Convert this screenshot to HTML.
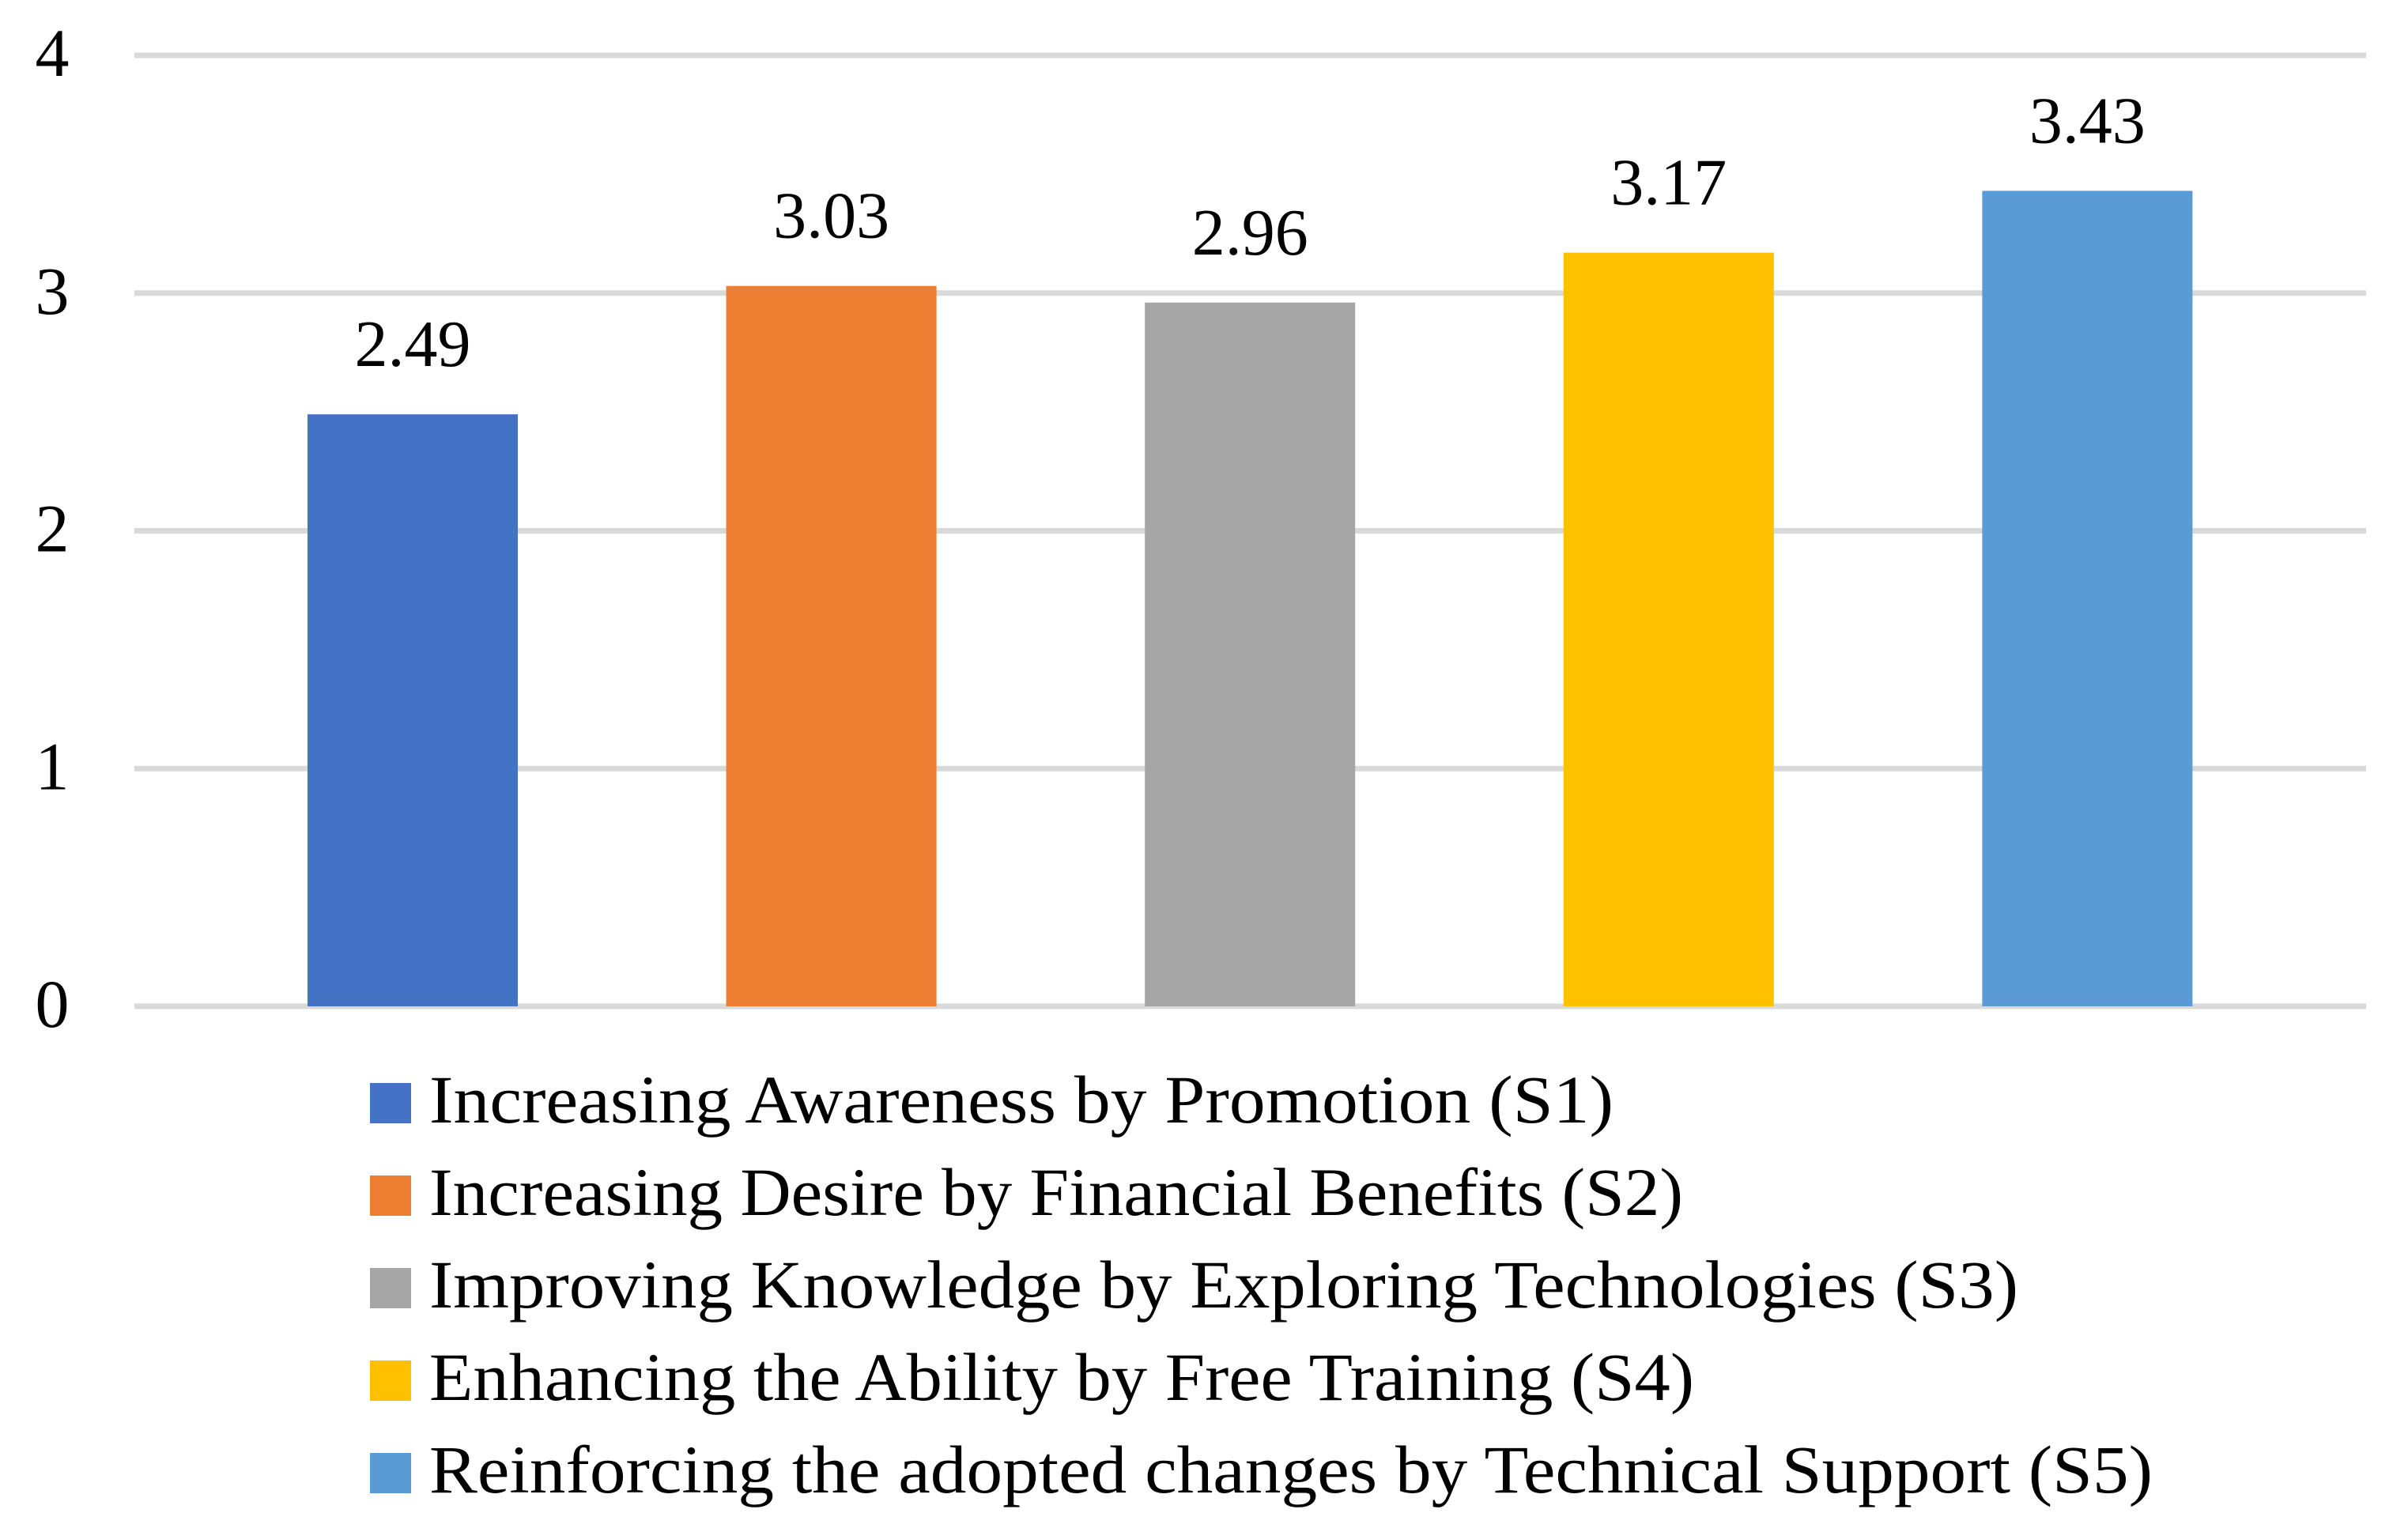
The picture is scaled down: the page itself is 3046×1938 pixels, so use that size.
<!DOCTYPE html>
<html><head><meta charset="utf-8"><style>
html,body{margin:0;padding:0;background:#fff;}
svg{display:block;font-family:"Liberation Serif",serif;}
</style></head><body>
<svg id="chart" width="3046" height="1938" viewBox="0 0 3046 1938" xmlns="http://www.w3.org/2000/svg">
<rect width="3046" height="1938" fill="#fff"/>
<g id="grid"></g><g id="bars"></g><g id="labels"></g><g id="legend"></g>
</svg>
<script>
const categories = ["Increasing Awareness by Promotion (S1)","Increasing Desire by Financial Benefits (S2)","Improving Knowledge by Exploring Technologies (S3)","Enhancing the Ability by Free Training (S4)","Reinforcing the adopted changes by Technical Support (S5)"];
const values = [2.49, 3.03, 2.96, 3.17, 3.43];
const valueLabels = ["2.49","3.03","2.96","3.17","3.43"];
const yTicks = [0, 1, 2, 3, 4];
const colors = ["#4472C4","#ED7D31","#A5A5A5","#FFC000","#5B9BD5"];
const legendWidths = [1498,1586,2010,1600,2180];

const NS = "http://www.w3.org/2000/svg";
const y0 = 1273, yTop = 70, yMax = 4;
function y(v){ return y0 - (y0 - yTop) * v / yMax; }
function xc(i){ return 522 + i * 529.6; }
const barW = 266;
function mk(tag, attrs, parent){ const e=document.createElementNS(NS,tag); for(const k in attrs) e.setAttribute(k,attrs[k]); parent.appendChild(e); return e; }

const grid=document.getElementById('grid');
yTicks.forEach(t=>{
  const l=mk('rect',{x:170,y:y(t)-3.5,width:2823,height:7,fill:'#D9D9D9'},grid);
  
  
  const tx=mk('text',{x:66,y:y(t)+26,'font-size':86,'text-anchor':'middle',fill:'#000'},grid);
  tx.textContent=String(t);
  
  
});
const bars=document.getElementById('bars'), labels=document.getElementById('labels');
values.forEach((v,i)=>{
  const r=mk('rect',{x:xc(i)-barW/2,y:y(v),width:barW,height:y0-y(v),fill:colors[i]},bars);
  
  
  const t=mk('text',{x:xc(i),y:y(v)-61,'font-size':84,'text-anchor':'middle',fill:'#000'},labels);
  t.textContent=valueLabels[i];
  
  
});
const lg=document.getElementById('legend');
categories.forEach((c,i)=>{
  const by=1420+i*117;
  const s=mk('rect',{x:468,y:by-50,width:52,height:51,fill:colors[i]},lg);
  
  
  const t=mk('text',{x:543,y:by,'font-size':86,fill:'#000',textLength:legendWidths[i],lengthAdjust:'spacingAndGlyphs'},lg);
  t.textContent=c;
  
  
});
</script>
</body></html>
